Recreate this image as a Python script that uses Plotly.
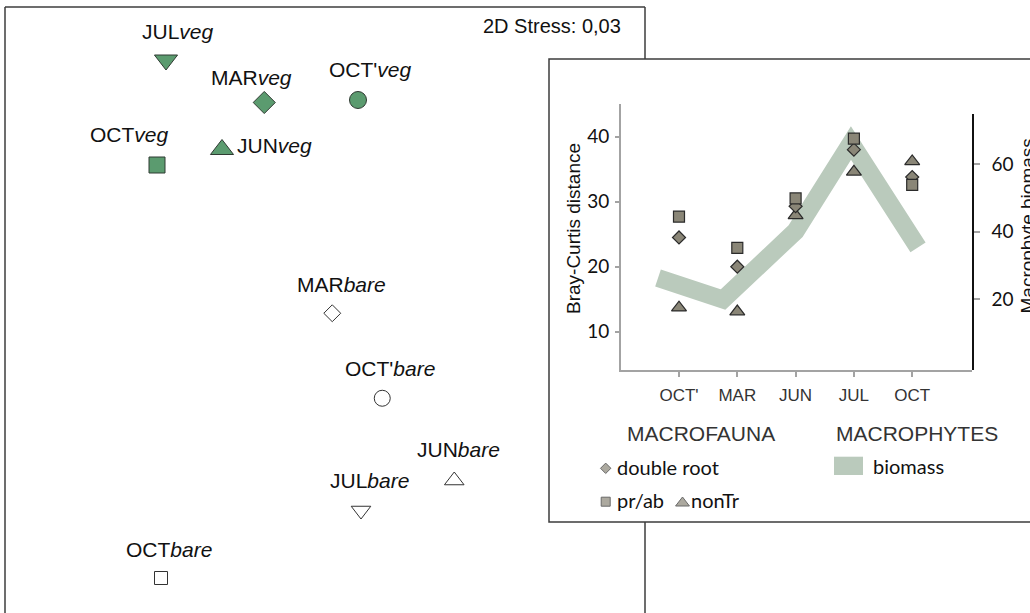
import plotly.graph_objects as go

W, H = 1030, 613

# ---------------- NMDS ordination (left panel) ----------------
samples = ["JULveg", "MARveg", "OCT'veg", "OCTveg", "JUNveg",
           "MARbare", "OCT'bare", "JUNbare", "JULbare", "OCTbare"]
label_html = ["JUL<i>veg</i>", "MAR<i>veg</i>", "OCT'<i>veg</i>", "OCT<i>veg</i>", "JUN<i>veg</i>",
              "MAR<i>bare</i>", "OCT'<i>bare</i>", "JUN<i>bare</i>", "JUL<i>bare</i>", "OCT<i>bare</i>"]
nmds1 = [-0.636, -0.243, 0.132, -0.672, -0.412, 0.029, 0.229, 0.517, 0.144, -0.656]
nmds2 = [1.000, 0.830, 0.840, 0.580, 0.642, -0.013, -0.353, -0.682, -0.802, -1.072]
symbols = ["triangle-down", "diamond", "circle", "square", "triangle-up",
           "diamond", "circle", "triangle-up", "triangle-down", "square"]
sizes = [20, 17, 17, 16, 20, 13, 16, 17, 17, 13]
habitat = ["veg"] * 5 + ["bare"] * 5
# label offsets (px) relative to each point
lab_dx = [12, -13, 12, -28, 13, 9, 8, 4, 8, 8]
lab_dy = [28.5, 25.5, 30.5, 30.5, 4, 29, 30, 31, 30, 29]
lab_anchor = ["center"] * 4 + ["left"] + ["center"] * 5
stress_text = "2D Stress: 0,03"

# ---------------- Inset: macrofauna distances & macrophyte biomass ----------------
months = ["OCT'", "MAR", "JUN", "JUL", "OCT"]
month_pos = [0, 1, 2, 3, 4]
double_root = [24.5, 20.0, 29.3, 38.0, 33.8]
pr_ab = [27.7, 22.9, 30.5, 39.7, 32.6]
non_tr = [13.7, 13.1, 27.9, 34.6, 36.2]
biomass_x = [-0.36, 0.755, 2.0, 2.95, 4.1]
biomass = [26.3, 19.9, 40.2, 66.3, 35.4]

GREEN = "#5b9b6f"
GREY = "#8a8677"
BAND = "#bacabc"
AXGREY = "#a3a3a3"

def px_x(p):
    return p / W

def px_y(p):
    return 1 - p / H

fig = go.Figure()

# left NMDS points
for i in range(len(samples)):
    veg = habitat[i] == "veg"
    fig.add_trace(go.Scatter(
        x=[nmds1[i]], y=[nmds2[i]], mode="markers", xaxis="x", yaxis="y",
        marker=dict(symbol=symbols[i], size=sizes[i],
                    color=GREEN if veg else "white",
                    line=dict(color="#2f3a32" if veg else "#333333", width=1)),
        showlegend=False, hoverinfo="text", text=samples[i]))

# biomass band (right axis), drawn first so the symbols sit on top
fig.add_trace(go.Scatter(
    x=biomass_x, y=biomass, mode="lines", xaxis="x2", yaxis="y2",
    line=dict(color=BAND, width=18), showlegend=False, name="biomass"))

# macrofauna symbols (left axis)
mk_line = dict(color="#2b2b2b", width=1.2)
fig.add_trace(go.Scatter(x=month_pos, y=non_tr, mode="markers", xaxis="x3", yaxis="y3",
                         marker=dict(symbol="triangle-up", size=13, color=GREY, line=mk_line),
                         showlegend=False, name="nonTr"))
fig.add_trace(go.Scatter(x=month_pos, y=double_root, mode="markers", xaxis="x3", yaxis="y3",
                         marker=dict(symbol="diamond", size=10, color=GREY, line=mk_line),
                         showlegend=False, name="double root"))
fig.add_trace(go.Scatter(x=month_pos, y=pr_ab, mode="markers", xaxis="x3", yaxis="y3",
                         marker=dict(symbol="square", size=11, color=GREY, line=mk_line),
                         showlegend=False, name="pr/ab"))

# legend keys on a full-figure pixel overlay
fig.add_trace(go.Scatter(
    x=[605.7, 605.7, 682.5], y=[468.3, 501.7, 503], mode="markers", xaxis="x4", yaxis="y4",
    marker=dict(symbol=["diamond", "square", "triangle-up"], size=[8, 9, 12],
                color=GREY, line=dict(color="#2b2b2b", width=1)),
    showlegend=False, hoverinfo="skip"))

x_rng = [-(679 - 621) / 58.3, (972 - 679) / 58.3]
inset_x_dom = [px_x(621), px_x(972)]

tick_font_num = dict(family="Lato", size=19, color="#111111")
ARIAL = "Liberation Sans, Arial"

fig.update_layout(
    width=W, height=H, margin=dict(l=0, r=0, t=0, b=0),
    paper_bgcolor="white", plot_bgcolor="rgba(0,0,0,0)",
    xaxis=dict(domain=[px_x(5), px_x(645)], range=[-1.28, 1.28], visible=False),
    yaxis=dict(domain=[0, px_y(7)], range=[(310 - 613) / 250, (310 - 7) / 250], visible=False),
    xaxis2=dict(domain=inset_x_dom, range=x_rng, visible=False, anchor="y2"),
    yaxis2=dict(domain=[px_y(370), px_y(114)], range=[-0.95, 74.9], anchor="x2", side="right",
                showline=True, linecolor="#111111", linewidth=1.5, showgrid=False, zeroline=False,
                tickvals=[20, 40, 60], ticks="outside", ticklen=6, tickwidth=2, tickcolor=AXGREY,
                tickfont=tick_font_num, ticklabelstandoff=8),
    xaxis3=dict(domain=inset_x_dom, range=x_rng, anchor="y3",
                showline=True, linecolor=AXGREY, linewidth=2, showgrid=False, zeroline=False,
                tickvals=month_pos, ticktext=months, ticks="outside", ticklen=5, tickwidth=2,
                tickcolor=AXGREY, tickfont=dict(family=ARIAL, size=17, color="#333333"),
                ticklabelstandoff=4),
    yaxis3=dict(domain=[px_y(370), px_y(104)], range=[4.11, 45.03], anchor="x3",
                showline=True, linecolor=AXGREY, linewidth=2, showgrid=False, zeroline=False,
                tickvals=[10, 20, 30, 40], ticks="outside", ticklen=4, tickwidth=2, tickcolor=AXGREY,
                tickfont=tick_font_num, ticklabelstandoff=2),
    xaxis4=dict(domain=[0, 1], range=[0, W], visible=False, anchor="y4"),
    yaxis4=dict(domain=[0, 1], range=[H, 0], visible=False, anchor="x4"),
)

# frames
frame = dict(color="#3c3c3c", width=1.5)
shapes = [
    dict(type="line", xref="paper", yref="paper", x0=px_x(5), x1=px_x(5), y0=-0.01, y1=px_y(7), line=frame, layer="below"),
    dict(type="line", xref="paper", yref="paper", x0=px_x(5), x1=px_x(645), y0=px_y(7), y1=px_y(7), line=frame, layer="below"),
    dict(type="line", xref="paper", yref="paper", x0=px_x(645), x1=px_x(645), y0=-0.01, y1=px_y(7), line=frame, layer="below"),
    dict(type="rect", xref="paper", yref="paper", x0=px_x(549), x1=1.02, y0=px_y(522), y1=px_y(59),
         fillcolor="white", line=frame, layer="below"),
    dict(type="rect", xref="paper", yref="paper", x0=px_x(834), x1=px_x(863), y0=px_y(475), y1=px_y(456.7),
         fillcolor=BAND, line=dict(width=0), layer="above"),
]
fig.update_layout(shapes=shapes)

ann = []
lab_font = dict(family=ARIAL, size=21, color="#111111")
for i in range(len(samples)):
    ann.append(dict(x=nmds1[i], y=nmds2[i], xref="x", yref="y", text=label_html[i],
                    showarrow=False, xanchor=lab_anchor[i], yanchor="middle",
                    xshift=lab_dx[i], yshift=lab_dy[i], font=lab_font))
ann.append(dict(x=px_x(623), y=px_y(26), xref="paper", yref="paper", text=stress_text,
                showarrow=False, xanchor="right", yanchor="middle",
                font=dict(family=ARIAL, size=20, color="#111111")))
# axis titles
ann.append(dict(x=px_x(573), y=px_y(229), xref="paper", yref="paper", text="Bray-Curtis distance",
                textangle=-90, showarrow=False, xanchor="center", yanchor="middle",
                font=dict(family=ARIAL, size=19, color="#111111")))
ann.append(dict(x=px_x(1014), y=px_y(226), xref="paper", yref="paper", text="Macrophyte biomass",
                textangle=-90, showarrow=False, xanchor="left", yanchor="middle",
                font=dict(family=ARIAL, size=19, color="#111111")))
# legend text
head_font = dict(family=ARIAL, size=21, color="#333333")
ann.append(dict(x=px_x(701), y=px_y(433), xref="paper", yref="paper", text="MACROFAUNA",
                showarrow=False, xanchor="center", yanchor="middle", font=head_font))
ann.append(dict(x=px_x(917), y=px_y(433), xref="paper", yref="paper", text="MACROPHYTES",
                showarrow=False, xanchor="center", yanchor="middle", font=head_font))
leg_font = dict(family="Lato", size=20, color="#111111")
for txt, xx, yy in [("double root", 615, 467), ("pr/ab", 615, 500), ("nonTr", 689, 500), ("biomass", 871, 466)]:
    ann.append(dict(x=px_x(xx), y=px_y(yy), xref="paper", yref="paper", text=txt,
                    showarrow=False, xanchor="left", yanchor="middle", font=leg_font))
fig.update_layout(annotations=ann)

fig.write_html("out.html")
